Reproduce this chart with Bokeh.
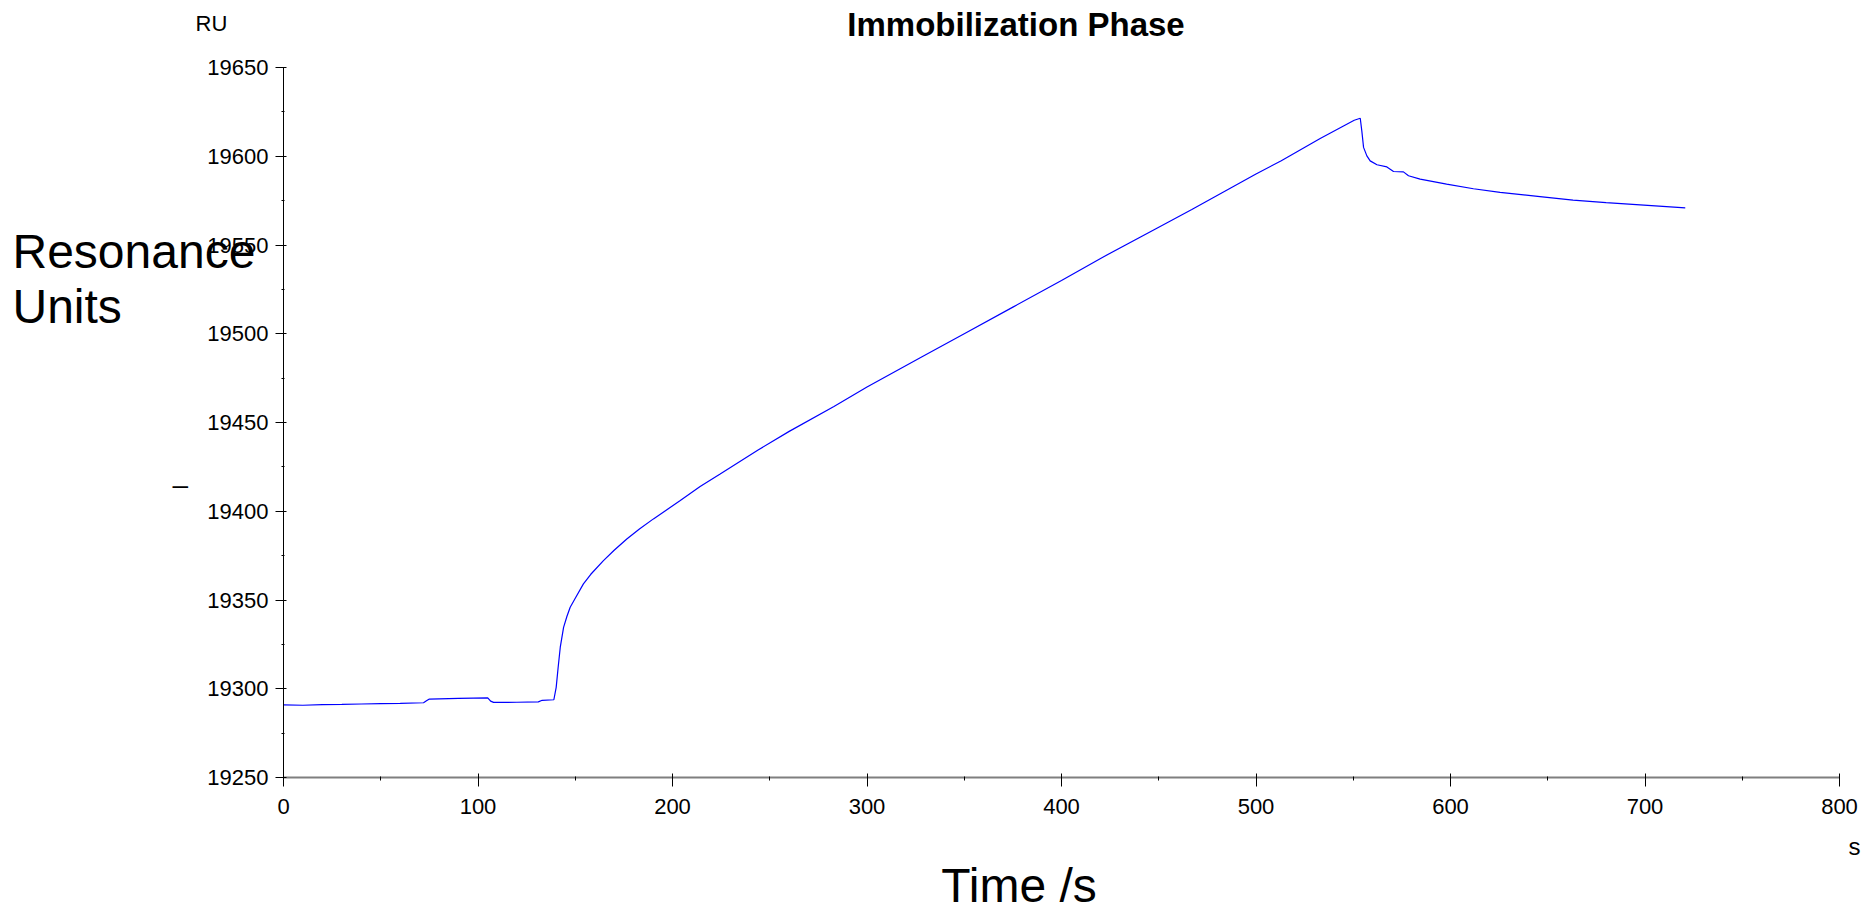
from bokeh.plotting import figure
from bokeh.models import Label, SingleIntervalTicker, Range1d
from bokeh.embed import file_html
from bokeh.resources import INLINE

# ---- data ----
time_s = [0, 10, 20, 30, 40, 50, 60, 72, 73.5, 75, 90, 105, 106.5, 108, 120, 131, 133, 139,
          140.2, 141.2, 142.3, 144, 145.7, 147.4, 150, 154.2, 158, 164.5, 170, 176.5, 183, 190.2,
          204, 214.2, 224.5, 244, 260, 283, 300, 329, 350, 375, 400, 421, 450, 467, 500,
          513, 533, 550.5, 553.6, 554.4, 555.3, 557, 558.7, 562.2, 567.3, 569, 570.7,
          575.8, 578.4, 584.4, 598, 611.8, 625.5, 646, 663, 680, 697.5, 720.7]
resp_ru = [19290.9, 19290.7, 19291.1, 19291.2, 19291.4, 19291.6, 19291.8, 19292.1, 19293.2,
           19294.2, 19294.6, 19294.9, 19293.0, 19292.3, 19292.4, 19292.6, 19293.5, 19293.8,
           19300.8, 19312.0, 19323.4, 19334.6, 19340.7, 19345.9, 19351.0, 19359.1, 19364.5,
           19372.2, 19378.0, 19384.4, 19390.0, 19395.7, 19406.0, 19414.0, 19421.0, 19434.5,
           19445.0, 19459.0, 19470.0, 19487.5, 19500.0, 19515.0, 19530.0, 19543.0, 19560.0,
           19570.0, 19590.0, 19597.5, 19610.0, 19620.3, 19621.4, 19614.3, 19605.0, 19600.2,
           19597.4, 19595.2, 19594.0, 19592.7, 19591.4, 19591.2, 19589.0, 19587.1, 19584.3,
           19581.7, 19579.6, 19577.3, 19575.3, 19573.9, 19572.6, 19570.9]

x_axis_bounds = (0, 800)
y_axis_bounds = (19250, 19650)
x_tick_step = 100
y_tick_step = 50

title_text = "Immobilization Phase"
y_unit_text = "RU"
y_title_lines = ["Resonance", "Units"]
x_title_text = "Time /s"
x_unit_text = "s"
stray_text = "\u2013"

FONT = "Liberation Sans"

# canvas geometry: axis box from x=283..1839 px, y=67..777 px on a 1862x915 canvas
W, H = 1862, 915
L, R, T, B = 283.0, 1839.0, 67.0, 777.0
xs = (R - L) / (x_axis_bounds[1] - x_axis_bounds[0])
ys = (B - T) / (y_axis_bounds[1] - y_axis_bounds[0])
x_rng = (x_axis_bounds[0] - L / xs, x_axis_bounds[1] + (W - R) / xs)
y_rng = (y_axis_bounds[0] - (H - B) / ys, y_axis_bounds[1] + T / ys)

p = figure(width=W, height=H, output_backend="svg", toolbar_location=None,
           x_range=Range1d(*x_rng), y_range=Range1d(*y_rng),
           min_border=0)
p.outline_line_color = None
p.xgrid.visible = False
p.ygrid.visible = False
p.background_fill_color = "white"
p.border_fill_color = "white"

p.line(time_s, resp_ru, line_color="#0000ff", line_width=1.2)

# x axis
xa = p.xaxis[0]
xa.fixed_location = y_axis_bounds[0]
xa.bounds = x_axis_bounds
xa.ticker = SingleIntervalTicker(interval=x_tick_step, num_minor_ticks=2)
xa.axis_line_color = "#7f7f7f"
xa.axis_line_width = 2
xa.major_tick_in = 4
xa.major_tick_out = 9
xa.minor_tick_in = 1
xa.minor_tick_out = 3
xa.major_tick_line_color = "black"
xa.minor_tick_line_color = "black"
xa.major_label_text_font = FONT
xa.major_label_text_font_size = "22px"
xa.major_label_text_color = "black"
xa.major_label_standoff = 12

# y axis
ya = p.yaxis[0]
ya.fixed_location = x_axis_bounds[0]
ya.bounds = y_axis_bounds
ya.ticker = SingleIntervalTicker(interval=y_tick_step, num_minor_ticks=2)
ya.axis_line_color = "black"
ya.axis_line_width = 1
ya.major_tick_in = 3
ya.major_tick_out = 8
ya.minor_tick_in = 1
ya.minor_tick_out = 2
ya.major_tick_line_color = "black"
ya.minor_tick_line_color = "black"
ya.major_label_text_font = FONT
ya.major_label_text_font_size = "22px"
ya.major_label_text_color = "black"
ya.major_label_standoff = 7


def px_x(x):
    return x_axis_bounds[0] + (x - L) / xs


def px_y(y):
    return y_axis_bounds[0] + (B - y) / ys


def lab(txt, x, y, size, align="left", bold=False, font=FONT):
    p.add_layout(Label(x=px_x(x), y=px_y(y), text=txt, text_font=font, text_font_size=size,
                       text_align=align, text_baseline="alphabetic", text_color="black",
                       text_font_style="bold" if bold else "normal"))


lab(title_text, 1015.5, 24, "33px", align="center", bold=True)
lab(y_unit_text, 195, 23, "22px")
lab(y_title_lines[0], 12, 251, "48px")
lab(y_title_lines[1], 12, 306, "48px")
lab(stray_text, 172, 484, "28px")
lab(x_title_text, 1018.5, 885, "48px", align="center")
lab(x_unit_text, 1860, 846, "24px", align="right")

open("out.html", "w").write(file_html(p, INLINE))
